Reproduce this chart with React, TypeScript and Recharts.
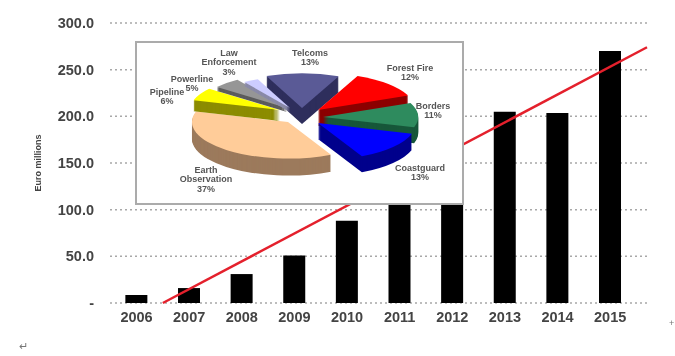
import { Bar, CartesianGrid, ComposedChart, Line, Pie, PieChart, XAxis, YAxis } from "recharts";

// main chart data
const years = [2006, 2007, 2008, 2009, 2010, 2011, 2012, 2013, 2014, 2015];
const spend = [8.5, 16, 31, 51, 88, 115, 125, 205, 203.5, 270];
const yTicks = [0, 50, 100, 150, 200, 250, 300];
const trendYears = [2006.5, 2015.7];
const trendValues = [0, 274];

// inset pie data
const sliceNames = ["Telcoms", "Forest Fire", "Borders", "Coastguard", "Earth Observation", "Pipeline", "Powerline", "Law Enforcement"];
const slicePercents = [13, 12, 11, 13, 37, 6, 5, 3];

const TOP_COLORS = ["#5a5a96", "#ff0000", "#2e8b5e", "#0000ff", "#ffcc99", "#ffff00", "#969696", "#ccccff"];
const SIDE_COLORS = ["#2e2e5c", "#8c0000", "#17573a", "#00008c", "#9c7a5c", "#8c8c00", "#5c5c5c", "#8a8aa8"];
const TEXT = "#444444";
const FONT = "'Liberation Sans', Arial, sans-serif";

// pie is squashed into an ellipse, each slice sits at its own offset and radius
const RX = 98;
const RY_RATIO = 0.38;

const sliceLayout: Record<string, { dx: number; dy: number; scale: number; depth: number }> = {
  Telcoms: { dx: -3, dy: -9, scale: 0.93, depth: 16 },
  "Forest Fire": { dx: 13, dy: -7, scale: 1, depth: 16 },
  Borders: { dx: 18, dy: 0, scale: 0.97, depth: 16 },
  Coastguard: { dx: 13, dy: 6, scale: 1, depth: 16 },
  "Earth Observation": { dx: -17, dy: 5, scale: 0.98, depth: 17 },
  Pipeline: { dx: -25, dy: -7, scale: 0.92, depth: 11 },
  // these two are mostly hidden behind the pipeline slice
  Powerline: { dx: -18, dy: -9, scale: 0.91, depth: 4 },
  "Law Enforcement": { dx: -15, dy: -9, scale: 0.84, depth: 4 },
};

// label centres relative to the pie centre
const labelSpots: Record<string, [number, number]> = {
  Telcoms: [5, -61],
  "Forest Fire": [105, -46],
  Borders: [128, -8],
  Coastguard: [115, 54],
  "Earth Observation": [-99, 56],
  Pipeline: [-138, -22],
  Powerline: [-113, -35],
  "Law Enforcement": [-76, -61],
};

const barData = years.map((year, i) => ({ year, spend: spend[i] }));
const trendData = trendYears.map((year, i) => ({ year, trend: trendValues[i] }));
const pieData = sliceNames.map((name, i) => ({
  name,
  value: slicePercents[i],
  fill: TOP_COLORS[i],
  side: SIDE_COLORS[i],
}));

const RAD = Math.PI / 180;

function ExplodedSlice(props: any) {
  const { cx, cy, startAngle, endAngle, side, fill, name } = props;
  const { dx, dy, scale, depth } = sliceLayout[name];
  const rx = RX * scale;
  const ry = rx * RY_RATIO;
  const ox = cx + dx;
  const oy = cy + dy;
  const sx = ox + rx * Math.cos(startAngle * RAD);
  const sy = oy - ry * Math.sin(startAngle * RAD);
  const ex = ox + rx * Math.cos(endAngle * RAD);
  const ey = oy - ry * Math.sin(endAngle * RAD);
  const large = Math.abs(endAngle - startAngle) > 180 ? 1 : 0;
  const sweep = endAngle < startAngle ? 1 : 0;
  const d = `M${ox},${oy}L${sx},${sy}A${rx},${ry} 0 ${large} ${sweep} ${ex},${ey}Z`;
  const layers = [];
  for (let h = depth; h > 0; h--) {
    layers.push(<path key={h} d={d} fill={side} transform={`translate(0,${h})`} />);
  }
  return (
    <g>
      {layers}
      <path d={d} fill={fill} />
    </g>
  );
}

function SliceLabel(props: any) {
  const { cx, cy, name, value } = props;
  const [dx, dy] = labelSpots[name];
  const words = name === "Earth Observation" || name === "Law Enforcement" ? name.split(" ") : [name];
  const lines = [...words, `${value}%`];
  return (
    <text x={cx + dx} y={cy + dy} textAnchor="middle" fontFamily={FONT} fontSize={9} fontWeight={700} fill="#555555">
      {lines.map((line: string, i: number) => (
        <tspan key={line} x={cx + dx} dy={i === 0 ? 0 : 9.3}>
          {line}
        </tspan>
      ))}
    </text>
  );
}

export default function App() {
  return (
    <div style={{ position: "relative", width: 675, height: 356, background: "#fff", overflow: "hidden", filter: "blur(0.4px)" }}>
      <style>{"body{margin:0}"}</style>
      <ComposedChart width={675} height={356} data={barData} margin={{ top: 23, right: 28, bottom: 23, left: 0 }}>
        <CartesianGrid vertical={false} stroke="#a8a8a8" strokeWidth={1.5} strokeDasharray="2 3" />
        <XAxis
          dataKey="year"
          type="number"
          scale="linear"
          domain={[2005.496, 2015.7]}
          ticks={years}
          interval={0}
          tickLine={false}
          axisLine={false}
          tickMargin={3}
          tick={{ fill: TEXT, fontSize: 14.5, fontWeight: 700, fontFamily: FONT }}
          tickFormatter={(v: number) => String(v)}
        />
        <YAxis
          width={110}
          domain={[0, 300]}
          ticks={yTicks}
          interval={0}
          tickLine={false}
          axisLine={false}
          tickMargin={10}
          tick={{ fill: TEXT, fontSize: 14.5, fontWeight: 700, fontFamily: FONT }}
          tickFormatter={(v: number) => (v === 0 ? "-" : v.toFixed(1))}
          label={{
            value: "Euro millions",
            angle: -90,
            position: "insideLeft",
            offset: 0,
            dx: 38,
            style: { fill: TEXT, fontSize: 9, fontWeight: 700, fontFamily: FONT, textAnchor: "middle" },
          }}
        />
        <Bar dataKey="spend" fill="#000000" barSize={22} isAnimationActive={false} />
        <Line data={trendData} dataKey="trend" stroke="#e4202c" strokeWidth={2.5} dot={false} isAnimationActive={false} />
      </ComposedChart>

      {/* inset pie box */}
      <div style={{ position: "absolute", left: 135, top: 41, width: 325, height: 160, border: "2px solid #ababab", background: "#fff" }}>
        <PieChart width={325} height={160} margin={{ top: 0, right: 0, bottom: 0, left: 0 }}>
          <Pie
            data={pieData}
            dataKey="value"
            nameKey="name"
            cx={168}
            cy={74}
            outerRadius={RX}
            startAngle={113}
            endAngle={-247}
            paddingAngle={0}
            shape={ExplodedSlice}
            label={SliceLabel}
            labelLine={false}
            stroke="none"
            isAnimationActive={false}
          />
        </PieChart>
      </div>

      <span style={{ position: "absolute", left: 19, top: 340, fontSize: 11, color: "#777", fontFamily: FONT }}>↵</span>
      <span style={{ position: "absolute", left: 669, top: 318, fontSize: 9, color: "#777", fontFamily: FONT }}>+</span>
    </div>
  );
}
